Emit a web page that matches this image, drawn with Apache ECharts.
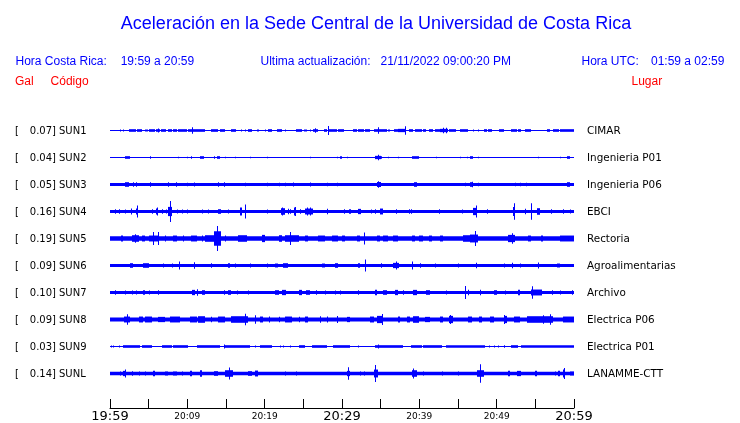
<!DOCTYPE html>
<html><head><meta charset="utf-8">
<script src="https://cdn.jsdelivr.net/npm/echarts@6/dist/echarts.min.js"></script>
<style>html,body{margin:0;padding:0;background:#fff}#c{width:740px;height:423px}</style>
</head><body><div id="c"></div>
<script>
// ---------- data ----------
const titleText = 'Aceleración en la Sede Central de la Universidad de Costa Rica';
const headerLabels = ['Hora Costa Rica:', '19:59 a 20:59', 'Ultima actualización:', '21/11/2022 09:00:20 PM', 'Hora UTC:', '01:59 a 02:59'];
const columnLabels = ['Gal', 'Código', 'Lugar'];
const codes = ['SUN1','SUN2','SUN3','SUN4','SUN5','SUN6','SUN7','SUN8','SUN9','SUNL'];
const places = ['CIMAR','Ingenieria P01','Ingenieria P06','EBCI','Rectoria','Agroalimentarias','Archivo','Electrica P06','Electrica P01','LANAMME-CTT'];
const peakGal = [0.07,0.04,0.05,0.16,0.19,0.09,0.10,0.09,0.03,0.14];
const tickLabels = ['19:59','20:09','20:19','20:29','20:39','20:49','20:59'];
// background noise half-amplitude per station (Gal)
const baseAmp = [0.0076,0.0076,0.021,0.024,0.034,0.023,0.023,0.032,0.0076,0.028];
// bursts/spikes: [start minute, end minute, half-amplitude Gal]
const sun1 = [[1.3,1.3,.015],[1.7,1.7,.015],[2.4,3.3,.02],[3.5,4.1,.02],[4.5,4.9,.015],[5.0,5.8,.02],[6.0,6.5,.02],[6.25,6.25,.03],[6.6,7.3,.02],[7.5,8.0,.02],[8.2,8.6,.02],[8.75,9.9,.02],[10.1,12.3,.02],[10.65,10.65,.05],[13.1,14.0,.02],[14.2,14.9,.02],[15.6,16.25,.02],[17.0,17.0,.015],[17.4,17.4,.015],[17.9,18.3,.02],[19.0,19.3,.015],[20.0,20.0,.015],[20.4,20.9,.02],[21.6,22.2,.02],[22.6,22.6,.015],[24.1,24.8,.02],[25.1,25.5,.015],[25.9,25.9,.015],[26.2,26.9,.02],[26.5,26.5,.035],[27.7,28.1,.02],[28.2,28.2,.07],[28.3,29.3,.02],[29.5,30.2,.02],[31.4,31.9,.02],[32.1,32.8,.02],[33.0,33.6,.02],[34.1,35.8,.02],[34.6,34.6,.05],[36.0,36.2,.015],[36.7,37.3,.02],[37.3,38.2,.025],[38.2,38.2,.065],[38.6,39.2,.02],[39.4,40.3,.02],[40.5,40.9,.02],[41.3,41.8,.02],[42.0,42.7,.02],[42.7,43.7,.025],[43.0,43.0,.04],[43.4,43.4,.04],[43.9,44.7,.02],[45.3,46.3,.02],[47.0,47.0,.015],[47.6,47.6,.015],[48.3,48.7,.02],[48.9,49.4,.02],[50.3,50.9,.02],[51.8,52.6,.02],[52.8,53.2,.02],[53.7,54.5,.02],[56.5,56.9,.02],[57.3,58.0,.02],[58.2,60.0,.02]];
const sun2 = [[1.9,2.6,.02],[5.2,5.2,.02],[8.75,8.75,.012],[9.9,9.9,.012],[10.5,10.5,.02],[11.6,12.2,.02],[13.5,13.5,.02],[13.8,14.2,.02],[14.9,14.9,.012],[16.2,16.2,.012],[18.1,18.1,.012],[20.3,20.3,.012],[25.9,25.9,.012],[29.3,29.3,.012],[29.7,30.0,.02],[30.6,30.6,.012],[34.3,35.0,.025],[34.6,34.6,.04],[35.1,35.1,.02],[36.0,36.0,.012],[37.3,37.3,.012],[39.0,40.0,.02],[42.2,42.2,.012],[45.3,45.3,.012],[46.1,46.1,.012],[46.6,46.9,.02],[47.6,47.6,.012],[55.4,55.4,.012],[58.2,58.2,.012],[59.1,59.5,.02]];
const sun3 = [[2.0,2.5,.035],[3.0,3.0,.035],[3.4,3.4,.035],[5.2,5.2,.035],[7.5,7.5,.035],[8.5,8.5,.035],[9.9,9.9,.028],[10.9,10.9,.03],[14.0,14.0,.035],[14.8,14.8,.035],[17.5,17.5,.028],[20.3,20.3,.028],[21.9,21.9,.028],[22.6,22.6,.028],[23.7,23.7,.03],[25.9,25.9,.03],[28.1,28.1,.028],[29.3,29.3,.028],[34.5,35.1,.038],[34.7,34.7,.05],[39.3,39.7,.035],[45.9,45.9,.028],[46.6,47.0,.035],[46.8,46.8,.042],[47.6,47.6,.028],[52.4,52.4,.028],[53.0,53.0,.028],[53.8,53.8,.028],[59.1,59.5,.035]];
const sun4 = [[0.6,0.6,.035],[1.2,1.2,.035],[1.9,1.9,.03],[2.7,2.7,.045],[3.4,3.6,.045],[3.5,3.5,.09],[5.4,5.6,.035],[6.0,6.25,.045],[6.1,6.1,.06],[6.7,6.7,.035],[7.3,7.3,.03],[7.5,8.0,.07],[7.75,7.75,.16],[8.6,8.6,.03],[9.3,9.3,.03],[10.0,10.0,.03],[11.9,11.9,.03],[12.7,12.7,.03],[14.0,14.4,.035],[15.2,15.2,.03],[16.8,17.1,.06],[17.4,17.4,.105],[20.3,20.3,.03],[22.1,22.6,.05],[22.3,22.3,.06],[23.0,23.0,.04],[23.3,23.3,.035],[23.8,24.0,.06],[23.9,23.9,.07],[24.6,24.6,.035],[25.2,26.3,.045],[25.5,25.5,.06],[25.9,25.9,.06],[28.1,28.1,.04],[30.3,30.3,.035],[30.9,31.2,.035],[32.1,32.4,.04],[33.8,33.8,.03],[34.3,34.3,.035],[34.9,35.3,.045],[37.0,37.0,.035],[38.6,38.6,.035],[38.9,38.9,.035],[42.6,42.6,.035],[45.5,45.5,.03],[47.0,47.5,.055],[47.3,47.3,.09],[48.7,48.7,.035],[52.1,52.4,.07],[52.3,52.3,.125],[53.7,53.7,.04],[54.4,54.4,.125],[55.2,55.6,.05],[57.0,57.0,.035],[58.6,58.6,.035],[59.5,59.5,.03]];
const sun5 = [[1.4,1.7,.045],[2.8,3.7,.05],[3.2,3.2,.065],[4.1,4.5,.045],[5.0,6.25,.045],[5.6,5.6,.1],[6.25,6.25,.1],[7.1,7.1,.045],[8.2,8.6,.045],[9.5,9.5,.045],[10.5,11.2,.045],[11.9,11.9,.045],[12.3,13.4,.05],[13.5,14.3,.11],[13.9,13.9,.19],[14.9,14.9,.045],[16.6,17.7,.05],[19.6,20.0,.055],[21.8,22.2,.05],[22.6,24.4,.05],[23.3,23.3,.1],[25.2,25.6,.045],[26.9,27.8,.045],[28.7,29.5,.045],[30.0,30.4,.045],[31.9,32.3,.045],[32.8,32.8,.09],[34.5,34.9,.045],[35.3,36.0,.045],[36.6,37.3,.045],[39.0,39.4,.045],[40.0,40.5,.045],[41.2,41.6,.045],[42.7,43.1,.045],[45.6,46.6,.05],[46.6,47.6,.06],[47.2,47.2,.115],[51.5,52.4,.055],[52.0,52.0,.08],[54.1,54.5,.045],[55.7,56.0,.045],[58.2,60.0,.045]];
const sun6 = [[2.6,3.0,.035],[4.3,5.0,.035],[6.9,6.9,.03],[8.0,8.0,.03],[8.9,8.9,.06],[10.8,10.8,.05],[13.1,13.1,.035],[15.3,15.5,.035],[16.2,16.2,.03],[18.1,18.1,.03],[20.3,20.3,.03],[21.3,21.7,.03],[22.4,23.0,.035],[27.4,27.8,.03],[29.1,29.5,.035],[32.1,32.3,.035],[33.0,33.0,.09],[35.1,35.1,.035],[36.6,37.4,.04],[37.0,37.0,.06],[39.0,39.0,.06],[40.1,40.1,.035],[42.0,42.0,.03],[45.0,45.0,.03],[47.3,47.3,.04],[50.9,50.9,.03],[52.0,52.0,.04],[53.0,53.0,.03],[55.4,55.4,.045],[57.8,58.2,.03]];
const sun7 = [[0.6,0.6,.035],[1.9,1.9,.03],[2.8,2.8,.03],[3.4,3.4,.03],[4.3,4.5,.035],[5.0,5.0,.03],[6.25,6.25,.035],[10.6,11.0,.04],[11.3,11.3,.05],[11.9,12.3,.035],[14.7,14.7,.035],[15.3,15.7,.035],[16.4,16.4,.03],[17.9,17.9,.03],[21.4,21.8,.035],[22.2,22.8,.04],[24.4,24.8,.04],[25.4,25.9,.035],[26.7,26.7,.035],[27.8,27.8,.03],[29.1,29.1,.03],[29.7,29.7,.03],[32.1,32.1,.035],[34.3,34.5,.04],[35.3,35.8,.035],[36.9,37.3,.04],[37.9,37.9,.035],[39.2,39.7,.04],[40.9,41.4,.035],[43.5,43.5,.03],[45.9,45.9,.1],[46.3,46.3,.04],[47.9,47.9,.04],[49.6,50.0,.035],[51.1,51.1,.03],[52.8,53.0,.04],[54.5,55.8,.045],[54.6,54.6,.095],[57.1,57.1,.035],[58.2,58.2,.03],[59.7,59.7,.035]];
const sun8 = [[1.8,2.6,.045],[2.2,2.2,.08],[3.7,4.3,.045],[4.5,5.4,.045],[6.25,7.1,.04],[7.8,9.1,.045],[10.3,11.2,.045],[11.4,12.3,.05],[13.1,13.1,.04],[14.0,14.9,.045],[15.7,17.9,.05],[17.5,17.5,.088],[18.75,18.75,.065],[19.4,19.8,.045],[20.5,20.5,.045],[21.8,21.8,.04],[22.6,23.5,.045],[24.4,24.4,.04],[25.2,25.6,.045],[27.2,27.2,.05],[28.0,28.0,.045],[29.3,29.3,.055],[30.6,31.0,.04],[33.6,34.1,.045],[34.5,35.3,.055],[35.2,35.2,.085],[37.2,37.5,.045],[38.4,38.8,.045],[39.2,39.9,.05],[40.7,41.4,.04],[42.7,43.1,.045],[43.8,44.4,.055],[44.0,44.0,.07],[46.3,46.8,.045],[47.7,48.1,.045],[49.2,49.6,.045],[50.9,51.3,.055],[51.0,51.0,.07],[52.2,53.0,.045],[53.9,57.3,.05],[56.0,56.0,.065],[56.9,56.9,.08],[58.6,60.0,.045]];
const sun9 = [[0.1,0.1,.015],[0.4,0.4,.015],[1.1,1.1,.015],[1.7,3.9,.02],[4.1,5.4,.02],[6.7,8.0,.02],[8.2,10.1,.02],[11.2,14.2,.02],[14.7,14.7,.03],[14.9,18.1,.02],[18.75,18.75,.015],[19.4,20.9,.02],[22.0,22.0,.015],[22.4,22.4,.015],[23.3,23.3,.015],[24.4,25.2,.02],[26.1,28.0,.02],[28.9,31.0,.02],[32.1,32.1,.015],[34.3,37.9,.02],[34.6,34.6,.03],[38.9,40.3,.02],[40.5,42.9,.02],[43.5,48.5,.02],[49.0,49.0,.015],[49.6,49.6,.015],[50.2,50.2,.015],[50.9,51.1,.02],[51.9,52.8,.02],[53.2,60.0,.02]];
const sunL = [[1.3,1.3,.03],[1.7,2.1,.04],[1.9,1.9,.06],[2.8,2.8,.035],[3.7,3.7,.03],[4.5,4.5,.03],[5.6,5.8,.04],[7.1,7.5,.03],[8.2,8.6,.03],[9.3,9.3,.03],[10.3,10.6,.04],[11.6,11.9,.05],[13.4,14.0,.035],[14.9,15.9,.05],[15.4,15.4,.09],[17.9,18.3,.035],[18.75,19.2,.045],[22.6,22.6,.03],[24.1,24.1,.03],[30.6,31.0,.04],[30.8,30.8,.095],[32.3,32.3,.03],[32.8,32.8,.03],[34.1,34.7,.06],[34.3,34.3,.13],[39.0,39.7,.05],[39.2,39.2,.075],[40.5,40.5,.03],[42.9,42.9,.03],[45.0,45.0,.03],[47.5,48.3,.05],[47.8,47.8,.14],[51.5,51.7,.04],[52.6,53.2,.04],[55.0,55.2,.04],[57.5,57.5,.03],[57.9,58.2,.04],[58.6,58.8,.06],[58.7,58.7,.085],[59.5,60.0,.03]];
const events = [sun1,sun2,sun3,sun4,sun5,sun6,sun7,sun8,sun9,sunL];

// ---------- layout ----------
const L = 110, W = 464, TOP0 = 117, ROWH = 27, YR = 0.205;
const BLUE = '#0000ff', RED = '#ff0000';
const chart = echarts.init(document.getElementById('c'), null, {renderer:'canvas'});

function renderItem(params, api) {
  const t0 = api.value(0), t1 = api.value(1), a = api.value(2);
  const p0 = api.coord([t0, a]);
  const p1 = api.coord([t1, -a]);
  const x = Math.round(p0[0]);
  const w = Math.max(1, Math.round(p1[0]) - x);
  return {type:'rect', shape:{x:x, y:p0[1], width:w, height:p1[1]-p0[1]}, style:{fill:BLUE}};
}

const grid = [], xAxis = [], yAxis = [], series = [], graphic = [];
codes.forEach((c, i) => {
  grid.push({left:L, width:W, top:TOP0 + ROWH*i, height:ROWH});
  xAxis.push({type:'value', gridIndex:i, min:0, max:60, show:false});
  yAxis.push({type:'value', gridIndex:i, min:-YR, max:YR, show:false});
  series.push({type:'custom', xAxisIndex:i, yAxisIndex:i, renderItem, silent:true, animation:false,
    data:[[0,60,baseAmp[i]]].concat(events[i])});
  const yc = TOP0 + ROWH*i + ROWH/2 + 0.5;
  const f = '10px "DejaVu Sans"';
  graphic.push({type:'text', x:15, y:yc, style:{text:'[', font:f, fill:'#000', verticalAlign:'middle', align:'left'}});
  graphic.push({type:'text', x:56, y:yc, style:{text:peakGal[i].toFixed(2)+']', font:f, fill:'#000', verticalAlign:'middle', align:'right'}});
  graphic.push({type:'text', x:59, y:yc, style:{text:c, font:f, fill:'#000', verticalAlign:'middle', align:'left'}});
  graphic.push({type:'text', x:587, y:yc, style:{text:places[i], font:'10.4px "DejaVu Sans"', fill:'#000', verticalAlign:'middle', align:'left'}});
});
// time axis grid
const ai = codes.length;
grid.push({left:L, width:W, top:400, height:9});
xAxis.push({type:'value', gridIndex:ai, min:0, max:60, interval:5,
  axisLine:{show:true, onZero:false, lineStyle:{color:'#000', width:1}},
  axisTick:{show:true, inside:true, length:9, lineStyle:{color:'#000', width:1}},
  splitLine:{show:false},
  axisLabel:{show:true, interval:0, margin:1, color:'#000', showMinLabel:true, showMaxLabel:true,
    formatter: v => {
      if (v % 10 !== 0) return '';
      const lab = tickLabels[v/10];
      return v % 30 === 0 ? '{b|' + lab + '}' : '{s|' + lab + '}';
    },
    rich:{b:{fontSize:13, fontFamily:'DejaVu Sans', lineHeight:15, color:'#000'},
          s:{fontSize:9, fontFamily:'DejaVu Sans', lineHeight:15, color:'#000'}}}
});
yAxis.push({type:'value', gridIndex:ai, show:false});

// header texts
const hf = '12px "Liberation Sans"';
graphic.push({type:'text', x:376, y:24.5, style:{text:titleText, font:'18px "Liberation Sans"', fill:BLUE, align:'center', verticalAlign:'middle'}});
const hx = [15.5, 120.7, 260.5, 380.5, 581.5, 651];
headerLabels.forEach((t, k) => graphic.push({type:'text', x:hx[k], y:61.5, style:{text:t, font:hf, fill:BLUE, align:'left', verticalAlign:'middle'}}));
const cx = [15, 50.6, 631.5];
columnLabels.forEach((t, k) => graphic.push({type:'text', x:cx[k], y:81.5, style:{text:t, font:hf, fill:RED, align:'left', verticalAlign:'middle'}}));

chart.setOption({animation:false, backgroundColor:'#fff', grid, xAxis, yAxis, series, graphic});
</script></body></html>
